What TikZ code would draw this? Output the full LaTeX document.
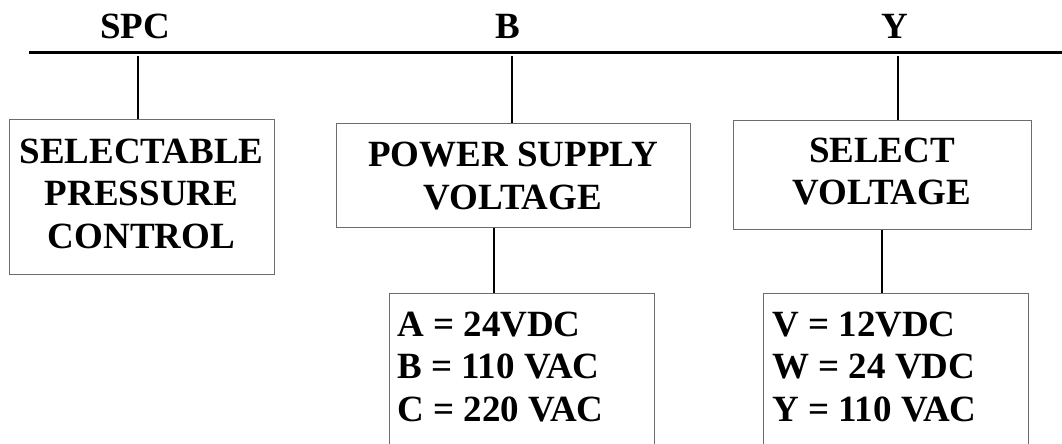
\documentclass[tikz,border=0pt]{standalone}
\usepackage{fontspec}
\setmainfont{Liberation Serif}
\begin{document}
\begin{tikzpicture}[x=1pt,y=-1pt,
  every node/.style={font=\fontsize{37}{42.5}\selectfont\bfseries, inner sep=0pt},
  box/.style={draw=gray!85!black, line width=1pt, align=center},
  lowbox/.style={draw=gray!85!black, line width=1pt},
  bus/.style={line width=2.2pt},
  link/.style={line width=2pt}]
\useasboundingbox (0,0) rectangle (1062,444);
\begin{scope}
\clip (0,0) rectangle (1062,444);
% bus line and labels
\coordinate (busL) at (29,52.5);
\coordinate (busR) at (1063,52.5);
\draw[bus] (busL) -- (busR);
\node[anchor=base] (lspc) at (135,39) {SPC};
\node[anchor=base] (lb) at (508,39) {B};
\node[anchor=base] (ly) at (895,39) {Y};
% boxes (frames)
\node[box, minimum width=265, minimum height=155] (spc) at (141.5,196.5) {};
\node[box, minimum width=354, minimum height=104] (pwr) at (513,175) {};
\node[box, minimum width=298, minimum height=109] (sel) at (882,174.5) {};
% box texts
\node[align=center] (spct) at ([yshift=3pt]spc.center) {SELECTABLE\\PRESSURE\\CONTROL};
\node[align=center] (pwrt) at ([yshift=-1pt]pwr.center) {POWER SUPPLY\\VOLTAGE};
\node[align=center] (selt) at ([yshift=3pt]sel.center) {SELECT\\VOLTAGE};
% lower boxes
\node[lowbox, minimum width=265, minimum height=180, anchor=north] (psl) at (521.5,293) {};
\node[lowbox, minimum width=265, minimum height=180, anchor=north] (svl) at (895.5,293) {};
\node[anchor=north west, align=left] (pslt) at (397,311.5) {A = 24VDC\\B = 110 VAC\\C = 220 VAC};
\node[anchor=north west, align=left] (svlt) at (772,311.5) {V = 12VDC\\W = 24 VDC\\Y = 110 VAC};
% connectors
\coordinate (spcbus) at (138,56);
\coordinate (pwrbus) at (512,56);
\coordinate (selbus) at (898,56);
\draw[link] (spcbus) -- (spcbus |- spc.north);
\draw[link] (pwrbus) -- (pwrbus |- pwr.north);
\draw[link] (selbus) -- (selbus |- sel.north);
\coordinate (pwrdrop) at (493.5,0);
\coordinate (seldrop) at (882,0);
\draw[link] (pwrdrop |- pwr.south) -- (pwrdrop |- psl.north);
\draw[link] (seldrop |- sel.south) -- (seldrop |- svl.north);
\end{scope}
\end{tikzpicture}
\end{document}
